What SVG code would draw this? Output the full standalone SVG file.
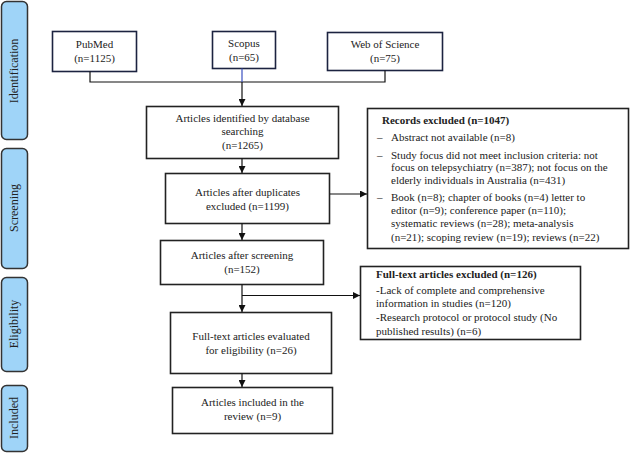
<svg xmlns="http://www.w3.org/2000/svg" width="630" height="453" viewBox="0 0 630 453">
<defs>
<marker id="ah" viewBox="0 0 10 10" refX="10" refY="5" markerWidth="7" markerHeight="7" markerUnits="userSpaceOnUse" orient="auto"><path d="M0,0 L10,5 L0,10 z" fill="#111"/></marker>
<style>
.side{fill:#9fd4f8;stroke:#333;stroke-width:1.5}
.box{fill:#fff;stroke:#222;stroke-width:1.6}
.src{fill:#fff;stroke:#1c2340;stroke-width:1.6}
.t{font-family:"Liberation Serif",serif;font-size:11px;fill:#222}
.c{text-anchor:middle}
.b{font-weight:bold}
.st{font-family:"Liberation Serif",serif;font-size:12px;fill:#222;text-anchor:middle}
.ln{fill:none;stroke:#111;stroke-width:1.2}
</style>
</defs>
<rect width="630" height="453" fill="#fff"/>
<g id="stage-identification"><rect class="side" x="1.5" y="1.5" width="26" height="138" rx="5"/><text class="st" transform="translate(18,71) rotate(-90)">Identification</text></g>
<g id="stage-screening"><rect class="side" x="1.5" y="148.5" width="26" height="120" rx="5"/><text class="st" transform="translate(18,208) rotate(-90)">Screening</text></g>
<g id="stage-eligibility"><rect class="side" x="1.5" y="277.5" width="26" height="94" rx="5"/><text class="st" transform="translate(18,324) rotate(-90)">Eligibility</text></g>
<g id="stage-included"><rect class="side" x="1.5" y="385.5" width="26" height="66" rx="5"/><text class="st" transform="translate(18,418) rotate(-90)">Included</text></g>

<g id="pubmed"><rect class="src" x="52.5" y="31.5" width="84" height="40"/><text class="t c" x="94.5" y="48">PubMed</text><text class="t c" x="94.5" y="62">(n=1125)</text></g>
<g id="scopus"><rect class="src" x="212.5" y="31.5" width="63" height="37"/><text class="t c" x="244" y="47">Scopus</text><text class="t c" x="244" y="61">(n=65)</text></g>
<g id="wos"><rect class="src" x="327.5" y="32.5" width="115" height="38"/><text class="t c" x="385" y="48">Web of Science</text><text class="t c" x="385" y="62">(n=75)</text></g>

<g id="identified"><rect class="box" x="146.5" y="106.5" width="192" height="52"/><text class="t c" x="242.5" y="122">Articles identified by database</text><text class="t c" x="242.5" y="135">searching</text><text class="t c" x="242.5" y="149">(n=1265)</text></g>
<g id="duplicates"><rect class="box" x="165.5" y="173.5" width="164" height="50"/><text class="t c" x="247.5" y="196">Articles after duplicates</text><text class="t c" x="247.5" y="210">excluded (n=1199)</text></g>
<g id="screened"><rect class="box" x="160.5" y="240.5" width="163" height="44"/><text class="t c" x="242" y="259">Articles after screening</text><text class="t c" x="242" y="273">(n=152)</text></g>
<g id="fulltext"><rect class="box" x="170.5" y="312.5" width="161" height="61"/><text class="t c" x="251" y="340">Full-text articles evaluated</text><text class="t c" x="251" y="354">for eligibility (n=26)</text></g>
<g id="included"><rect class="box" x="172.5" y="387.5" width="160" height="46"/><text class="t c" x="252.5" y="406">Articles included in the</text><text class="t c" x="252.5" y="420">review (n=9)</text></g>

<g id="records-excluded"><rect class="box" x="367.5" y="108.5" width="261" height="140"/>
<text class="t b" x="382" y="124">Records excluded (n=1047)</text>
<text class="t" x="377" y="141">–</text><text class="t" x="391" y="141">Abstract not available (n=8)</text>
<text class="t" x="377" y="159">–</text><text class="t" x="391" y="159">Study focus did not meet inclusion criteria: not</text>
<text class="t" x="391" y="171">focus on telepsychiatry (n=387); not focus on the</text>
<text class="t" x="391" y="184">elderly individuals in Australia (n=431)</text>
<text class="t" x="377" y="201">–</text><text class="t" x="391" y="201">Book (n=8); chapter of books (n=4) letter to</text>
<text class="t" x="391" y="214">editor (n=9); conference paper (n=110);</text>
<text class="t" x="391" y="227">systematic reviews (n=28); meta-analysis</text>
<text class="t" x="391" y="241">(n=21); scoping review (n=19); reviews (n=22)</text>
</g>
<g id="fulltext-excluded"><rect class="box" x="360.5" y="266.5" width="220" height="73"/>
<text class="t b" x="376" y="278">Full-text articles excluded (n=126)</text>
<text class="t" x="376" y="294">-Lack of complete and comprehensive</text>
<text class="t" x="376" y="307">information in studies (n=120)</text>
<text class="t" x="376" y="321">-Research protocol or protocol study (No</text>
<text class="t" x="376" y="335">published results) (n=6)</text>
</g>

<g id="connectors">
<polyline class="ln" points="90,71.5 90,82 385,82 385,70.5"/>
<line x1="242" y1="68.5" x2="242" y2="82" stroke="#3a4fc0" stroke-width="1.2"/>
<line class="ln" x1="242" y1="82" x2="242" y2="106" marker-end="url(#ah)"/>
<line class="ln" x1="242" y1="158.5" x2="242" y2="173" marker-end="url(#ah)"/>
<line class="ln" x1="330" y1="194" x2="367" y2="194" marker-end="url(#ah)"/>
<line class="ln" x1="242" y1="223.5" x2="242" y2="240" marker-end="url(#ah)"/>
<line class="ln" x1="242" y1="284.5" x2="242" y2="312" marker-end="url(#ah)"/>
<line class="ln" x1="242" y1="295.5" x2="360" y2="295.5" marker-end="url(#ah)"/>
<line class="ln" x1="242" y1="373.5" x2="242" y2="387" marker-end="url(#ah)"/>
</g>
</svg>
